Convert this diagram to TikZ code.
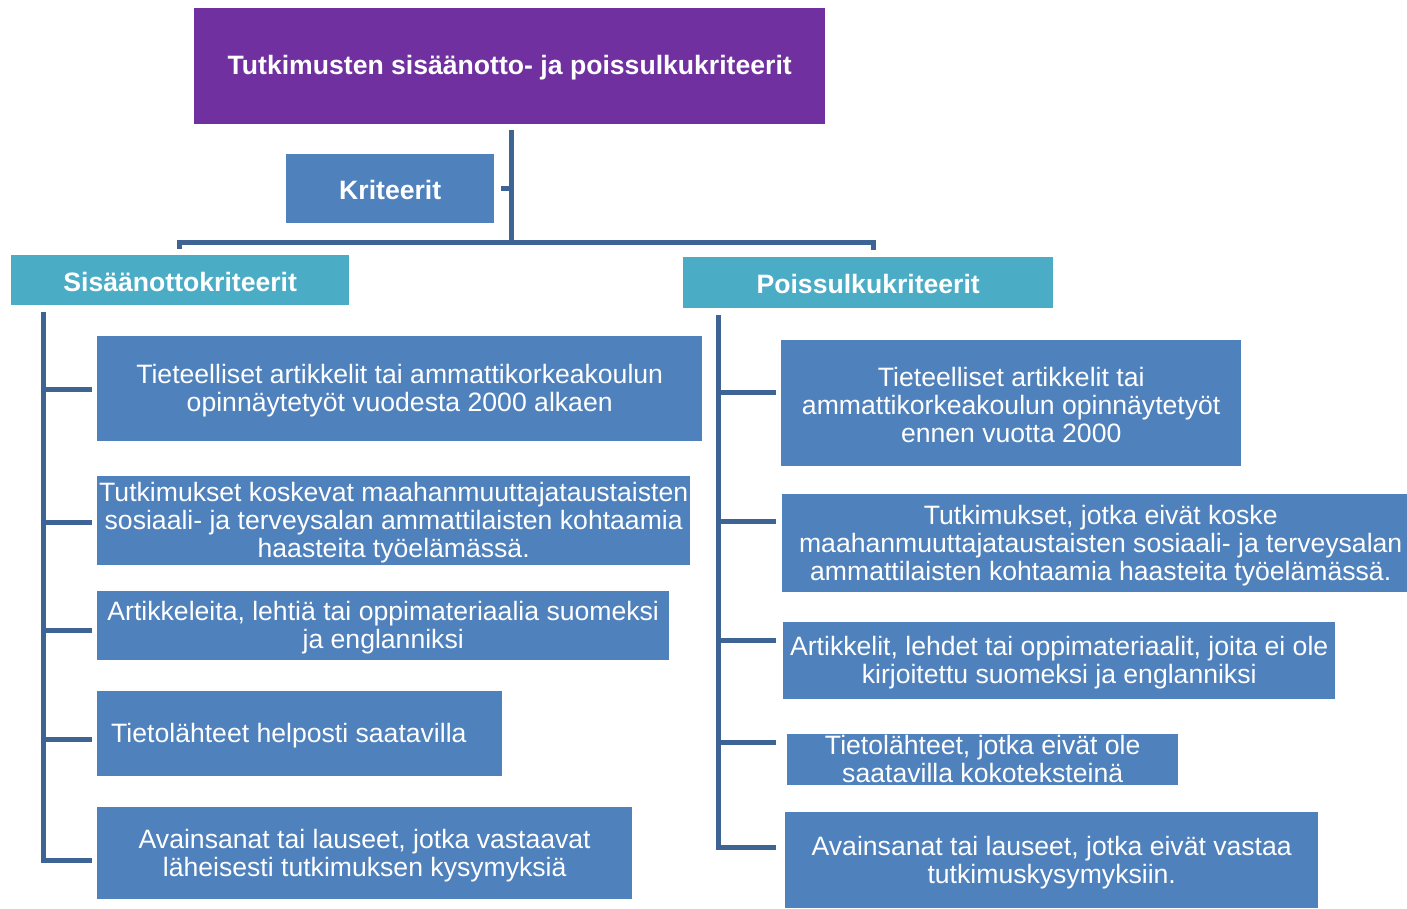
\documentclass[tikz,border=0pt]{standalone}
\usepackage{fontspec}
\setmainfont{Liberation Sans}
\definecolor{titlepurple}{RGB}{112,48,160}
\definecolor{boxblue}{RGB}{79,129,189}
\definecolor{teal}{RGB}{75,172,198}
\definecolor{connblue}{RGB}{62,100,150}
\tikzset{
  boxshape/.style={fill=#1, inner sep=0pt, draw=none},
  boxtext/.style={text=white, align=center, inner sep=0pt, yshift=-2pt, font=\fontsize{26.6}{28}\selectfont},
  headtext/.style={text=white, align=center, inner sep=0pt, yshift=-1.5pt, font=\fontsize{26.6}{28}\selectfont\bfseries},
  conn/.style={draw=connblue, line width=5pt},
}
\newcommand{\bx}[7]{% name, color, x1, y1, x2, y2
  \node[boxshape=#2, anchor=north west, minimum width=#5pt-#3pt, minimum height=#6pt-#4pt] (#1) at (#3,#4) {};
}
\begin{document}
\begin{tikzpicture}[x=1pt,y=-1pt]
\useasboundingbox (0,0) rectangle (1407,908);
% boxes
\bx{title}{titlepurple}{194}{8}{825}{124}{}
\bx{krit}{boxblue}{286}{154}{494}{223}{}
\bx{sis}{teal}{11}{255}{349}{305}{}
\bx{poi}{teal}{683}{257}{1053}{308}{}
\bx{l1}{boxblue}{97}{336}{702}{441}{}
\bx{l2}{boxblue}{97}{476}{690}{565}{}
\bx{l3}{boxblue}{97}{591}{669}{660}{}
\bx{l4}{boxblue}{97}{691}{502}{776}{}
\bx{l5}{boxblue}{97}{807}{632}{899}{}
\bx{r1}{boxblue}{781}{340}{1241}{466}{}
\bx{r2}{boxblue}{782}{494}{1407}{592}{}
\bx{r3}{boxblue}{783}{622}{1335}{699}{}
\bx{r4}{boxblue}{787}{734}{1178}{785}{}
\bx{r5}{boxblue}{785}{812}{1318}{908}{}
% texts
\node[headtext] (ttitle) at (title.center) {Tutkimusten sisäänotto- ja poissulkukriteerit};
\node[headtext] (tkrit) at (krit.center) {Kriteerit};
\node[headtext] (tsis) at (sis.center) {Sisäänottokriteerit};
\node[headtext] (tpoi) at (poi.center) {Poissulkukriteerit};
\node[boxtext] (tl1) at (l1.center) {Tieteelliset artikkelit tai ammattikorkeakoulun\\opinnäytetyöt vuodesta 2000 alkaen};
\node[boxtext] (tl2) at (l2.center) {Tutkimukset koskevat maahanmuuttajataustaisten\\sosiaali- ja terveysalan ammattilaisten kohtaamia\\haasteita työelämässä.};
\node[boxtext] (tl3) at (l3.center) {Artikkeleita, lehtiä tai oppimateriaalia suomeksi\\ja englanniksi};
\node[boxtext, anchor=west] (tl4) at ([xshift=14pt]l4.west) {Tietolähteet helposti saatavilla};
\node[boxtext] (tl5) at (l5.center) {Avainsanat tai lauseet, jotka vastaavat\\läheisesti tutkimuksen kysymyksiä};
\node[boxtext] (tr1) at (r1.center) {Tieteelliset artikkelit tai\\ammattikorkeakoulun opinnäytetyöt\\ennen vuotta 2000};
\node[boxtext] (tr2) at ([xshift=6pt]r2.center) {Tutkimukset, jotka eivät koske\\maahanmuuttajataustaisten sosiaali- ja terveysalan\\ammattilaisten kohtaamia haasteita työelämässä.};
\node[boxtext] (tr3) at (r3.center) {Artikkelit, lehdet tai oppimateriaalit, joita ei ole\\kirjoitettu suomeksi ja englanniksi};
\node[boxtext] (tr4) at ([yshift=2.5pt]r4.center) {Tietolähteet, jotka eivät ole\\saatavilla kokoteksteinä};
\node[boxtext] (tr5) at (r5.center) {Avainsanat tai lauseet, jotka eivät vastaa\\tutkimuskysymyksiin.};
% top connectors
\coordinate (tb) at (511,130);
\coordinate (hub) at (511,242);
\coordinate (sd) at (179,249);
\coordinate (pd) at (873,250);
\draw[conn] (tb) -- (hub);
\draw[conn] (sd) |- (hub) -| (pd);
\draw[conn] ([xshift=7pt]krit.east) -- (krit.east -| hub);
% left spine
\coordinate (ls) at (43,312);
\coordinate (lb1) at ([xshift=-5pt,yshift=-0.5pt]l1.west);
\coordinate (lb2) at ([xshift=-5pt,yshift=-1.5pt]l2.west);
\coordinate (lb3) at ([xshift=-5pt,yshift=-4.5pt]l3.west);
\coordinate (lb4) at ([xshift=-5pt,yshift=-5.5pt]l4.west);
\coordinate (lb5) at ([xshift=-5pt,yshift=-7pt]l5.west);
\draw[conn] (ls) |- (lb5);
\foreach \b in {lb1,lb2,lb3,lb4} \draw[conn] (ls |- \b) -- (\b);
% right spine
\coordinate (rs) at (718,315);
\coordinate (rb1) at ([xshift=-5pt,yshift=11pt]r1.west);
\coordinate (rb2) at ([xshift=-6pt,yshift=22pt]r2.west);
\coordinate (rb3) at ([xshift=-7pt,yshift=20.5pt]r3.west);
\coordinate (rb4) at ([xshift=-11pt,yshift=17.5pt]r4.west);
\coordinate (rb5) at ([xshift=-9pt,yshift=13pt]r5.west);
\draw[conn] (rs) |- (rb5);
\foreach \b in {rb1,rb2,rb3,rb4} \draw[conn] (rs |- \b) -- (\b);
\end{tikzpicture}
\end{document}
